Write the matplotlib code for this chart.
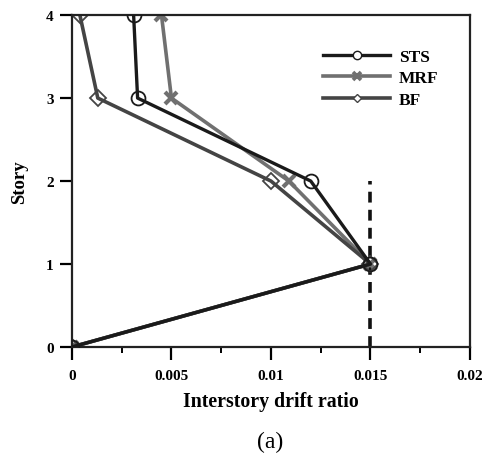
import matplotlib
matplotlib.use("Agg")
import matplotlib.pyplot as plt
from matplotlib.lines import Line2D

plt.rcParams['font.family'] = ['Liberation Serif', 'DejaVu Serif']

story = [0, 1, 2, 3, 4]
sts = [0.0, 0.015, 0.0120, 0.0033, 0.0031]
mrf = [0.0, 0.015, 0.0109, 0.0050, 0.0045]
bf = [0.0, 0.015, 0.0100, 0.0013, 0.0004]
limit_x = [0.015, 0.015]
limit_y = [0, 2]
xticks = [0, 0.005, 0.01, 0.015, 0.02]
xticklabels = ['0', '0.005', '0.01', '0.015', '0.02']
yticks = [0, 1, 2, 3, 4]

c_sts = '#1a1a1a'
c_mrf = '#707070'
c_bf = '#444444'

fig = plt.figure(figsize=(4.86, 4.60), dpi=100)
ax = fig.add_axes([0.148, 0.2435, 0.819, 0.7215])

ax.plot(limit_x, limit_y, color='#111111', lw=2.6, ls=(0, (3, 2)), zorder=1)
ax.plot(sts, story, color=c_sts, lw=2.4, marker='o', ms=10, mfc='none',
        mec=c_sts, mew=1.3, zorder=3)
ax.plot(mrf, story, color=c_mrf, lw=2.6, marker='x', ms=9, mec=c_mrf,
        mew=3.0, zorder=2)
ax.plot(bf, story, color=c_bf, lw=2.6, marker='D', ms=8, mfc='none',
        mec=c_bf, mew=1.3, zorder=2)

ax.set_xlim(0, 0.02)
ax.set_ylim(0, 4)
ax.set_xticks(xticks)
ax.set_xticklabels(xticklabels)
ax.set_xticks([0.0025, 0.0075, 0.0125, 0.0175], minor=True)
ax.set_yticks(yticks)
ax.tick_params(axis='both', which='major', direction='out', length=9, width=1.6,
               labelsize=11)
ax.tick_params(axis='x', which='major', pad=7)
ax.tick_params(axis='y', which='major', pad=4)
ax.tick_params(axis='x', which='minor', direction='out', length=4.5, width=1.4)
for lab in ax.get_xticklabels() + ax.get_yticklabels():
    lab.set_fontweight('bold')
for s in ax.spines.values():
    s.set_linewidth(1.6)
    s.set_color('#222222')

ax.set_xlabel('Interstory drift ratio', fontsize=14.3, fontweight='bold', labelpad=6)
ax.set_ylabel('Story', fontsize=13.5, fontweight='bold', labelpad=13)

handles = [
    Line2D([], [], color=c_sts, lw=2.4, marker='o', ms=6, mfc='white', mec=c_sts, mew=1.0),
    Line2D([], [], color=c_mrf, lw=2.6, marker='x', ms=6, mec=c_mrf, mew=2.6),
    Line2D([], [], color=c_bf, lw=2.6, marker='D', ms=4.5, mfc='white', mec=c_bf, mew=1.0),
]
leg = ax.legend(handles, ['STS', 'MRF', 'BF'], loc='upper right',
                bbox_to_anchor=(0.96, 0.945), frameon=False, handlelength=3.85,
                handletextpad=0.5, labelspacing=0.3,
                prop={'weight': 'bold', 'size': 12.5})

fig.text(0.556, 0.039, '(a)', ha='center', va='center', fontsize=17)

fig.savefig('out.png', dpi=100)
